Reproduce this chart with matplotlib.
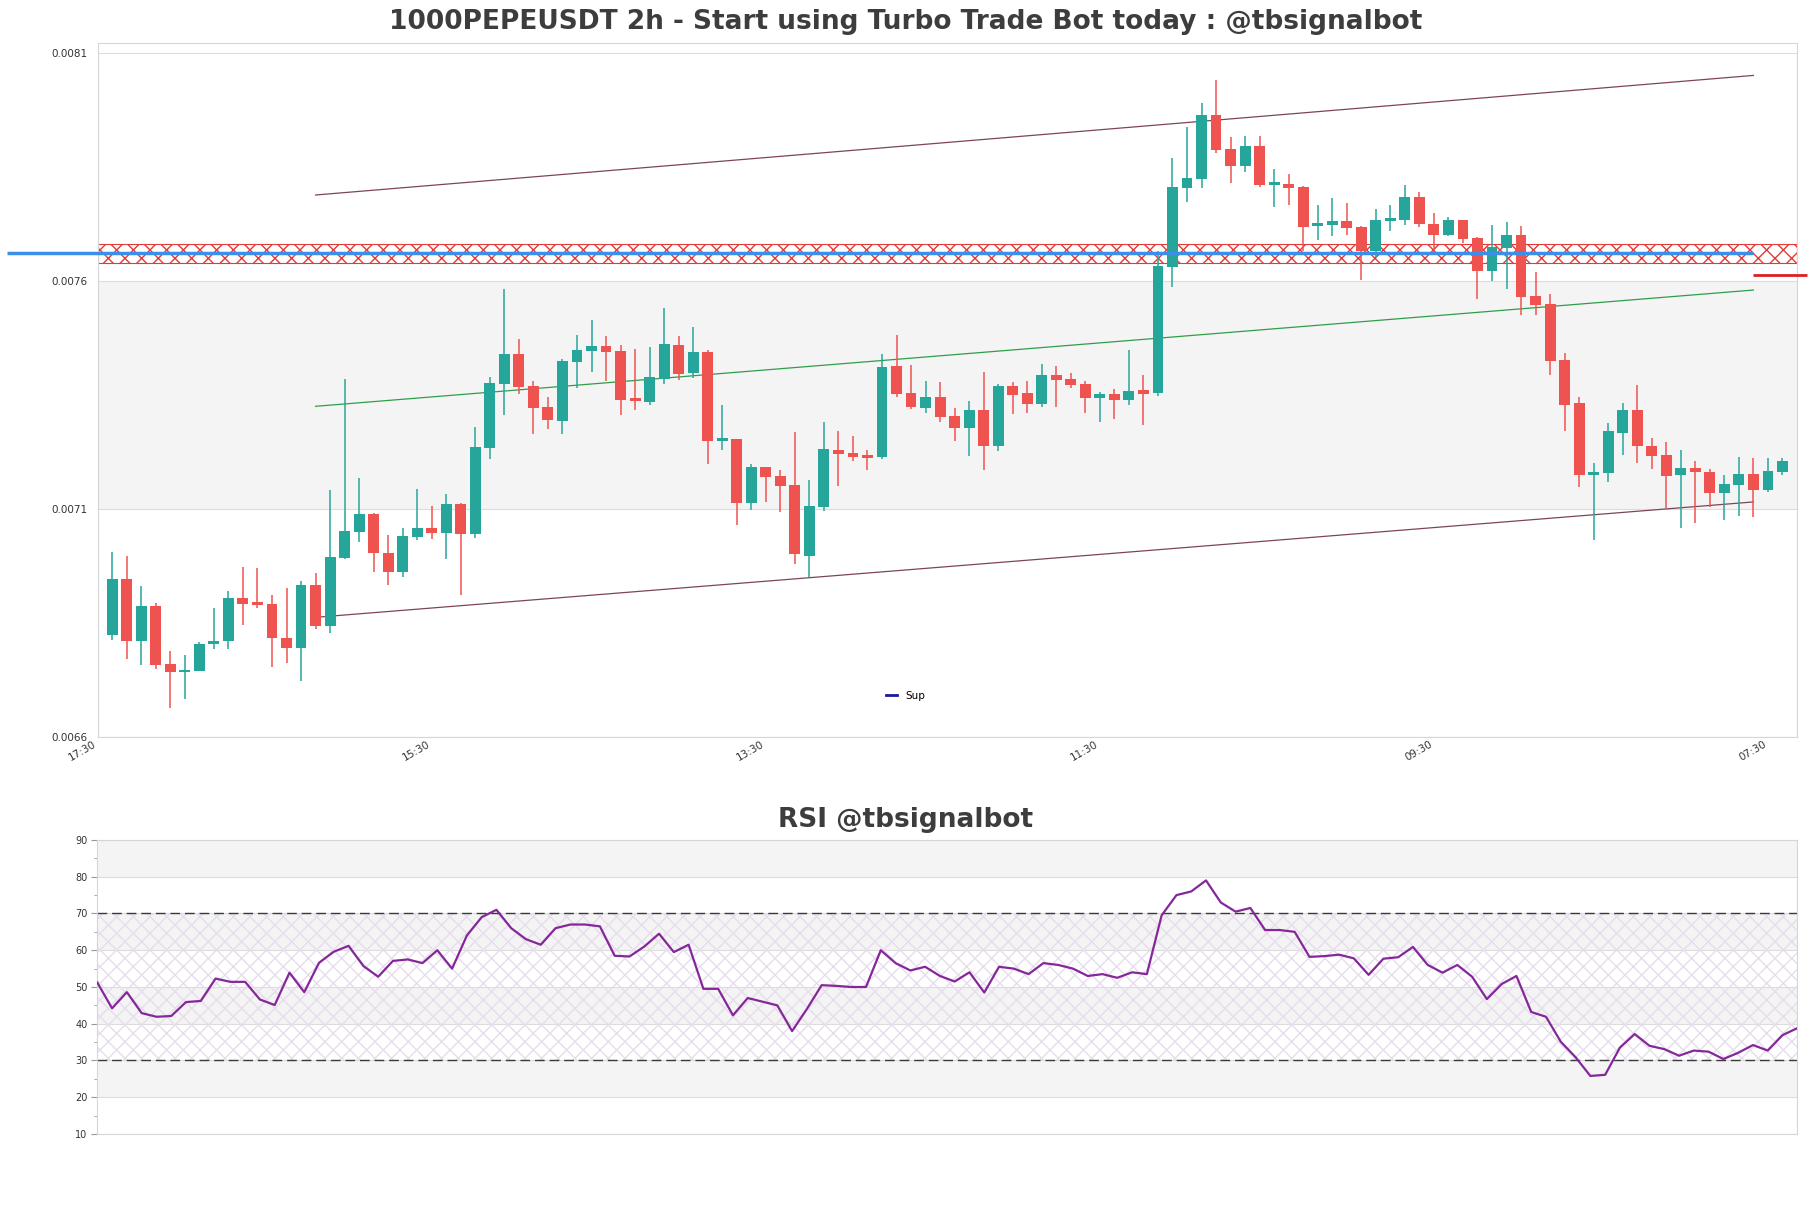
import numpy as np
import matplotlib.pyplot as plt
from matplotlib.lines import Line2D

title = "1000PEPEUSDT 2h - Start using Turbo Trade Bot today : @tbsignalbot"
rsi_title = "RSI @tbsignalbot"

# 2h candles
opens = [0.006824, 0.006946, 0.006809, 0.006887, 0.006760, 0.006741, 0.006745, 0.006803, 0.006809, 0.006905,
         0.006894, 0.006891, 0.006817, 0.006795, 0.006933, 0.006844, 0.006993, 0.007050, 0.007089, 0.007003,
         0.006961, 0.007039, 0.007058, 0.007048, 0.007111, 0.007046, 0.007234, 0.007375, 0.007440, 0.007370,
         0.007324, 0.007294, 0.007423, 0.007447, 0.007457, 0.007447, 0.007343, 0.007335, 0.007386, 0.007460,
         0.007399, 0.007444, 0.007250, 0.007253, 0.007114, 0.007192, 0.007172, 0.007152, 0.006997, 0.007105,
         0.007229, 0.007223, 0.007216, 0.007215, 0.007414, 0.007354, 0.007322, 0.007346, 0.007304, 0.007278,
         0.007317, 0.007237, 0.007370, 0.007354, 0.007331, 0.007394, 0.007385, 0.007374, 0.007344, 0.007352,
         0.007338, 0.007361, 0.007354, 0.007632, 0.007805, 0.007825, 0.007965, 0.007890, 0.007853, 0.007897,
         0.007811, 0.007813, 0.007807, 0.007722, 0.007724, 0.007732, 0.007719, 0.007665, 0.007733, 0.007734,
         0.007785, 0.007725, 0.007702, 0.007734, 0.007695, 0.007623, 0.007673, 0.007702, 0.007567, 0.007550,
         0.007427, 0.007333, 0.007175, 0.007179, 0.007267, 0.007316, 0.007238, 0.007218, 0.007175, 0.007190,
         0.007181, 0.007136, 0.007153, 0.007177, 0.007142, 0.007182]
highs = [0.007005, 0.006997, 0.006931, 0.006893, 0.006788, 0.006779, 0.006807, 0.006883, 0.006920, 0.006973,
         0.006970, 0.006910, 0.006926, 0.006942, 0.006959, 0.007142, 0.007385, 0.007168, 0.007092, 0.007043,
         0.007057, 0.007144, 0.007106, 0.007133, 0.007114, 0.007280, 0.007390, 0.007583, 0.007473, 0.007381,
         0.007346, 0.007429, 0.007482, 0.007515, 0.007480, 0.007459, 0.007451, 0.007455, 0.007541, 0.007480,
         0.007499, 0.007449, 0.007328, 0.007254, 0.007199, 0.007193, 0.007185, 0.007269, 0.007163, 0.007291,
         0.007271, 0.007260, 0.007229, 0.007440, 0.007482, 0.007416, 0.007381, 0.007379, 0.007322, 0.007337,
         0.007401, 0.007374, 0.007379, 0.007381, 0.007418, 0.007414, 0.007398, 0.007381, 0.007357, 0.007363,
         0.007449, 0.007395, 0.007666, 0.007870, 0.007938, 0.007991, 0.008041, 0.007916, 0.007919, 0.007919,
         0.007845, 0.007835, 0.007808, 0.007767, 0.007782, 0.007771, 0.007720, 0.007758, 0.007767, 0.007811,
         0.007796, 0.007750, 0.007741, 0.007735, 0.007697, 0.007723, 0.007730, 0.007722, 0.007621, 0.007572,
         0.007442, 0.007346, 0.007200, 0.007288, 0.007333, 0.007373, 0.007256, 0.007247, 0.007229, 0.007205,
         0.007188, 0.007174, 0.007214, 0.007212, 0.007212, 0.007212]
lows = [0.006812, 0.006771, 0.006758, 0.006749, 0.006664, 0.006683, 0.006745, 0.006793, 0.006793, 0.006845,
        0.006883, 0.006752, 0.006762, 0.006723, 0.006836, 0.006827, 0.006990, 0.007028, 0.006962, 0.006932,
        0.006950, 0.007031, 0.007035, 0.006991, 0.006911, 0.007037, 0.007210, 0.007307, 0.007353, 0.007265,
        0.007275, 0.007265, 0.007366, 0.007401, 0.007381, 0.007307, 0.007318, 0.007329, 0.007375, 0.007384,
        0.007388, 0.007199, 0.007229, 0.007065, 0.007097, 0.007116, 0.007094, 0.006980, 0.006950, 0.007096,
        0.007151, 0.007206, 0.007186, 0.007210, 0.007346, 0.007320, 0.007311, 0.007291, 0.007250, 0.007217,
        0.007186, 0.007228, 0.007309, 0.007311, 0.007324, 0.007324, 0.007366, 0.007311, 0.007291, 0.007298,
        0.007327, 0.007284, 0.007348, 0.007588, 0.007774, 0.007805, 0.007882, 0.007816, 0.007840, 0.007807,
        0.007763, 0.007768, 0.007665, 0.007691, 0.007698, 0.007702, 0.007603, 0.007654, 0.007711, 0.007723,
        0.007719, 0.007658, 0.007700, 0.007683, 0.007561, 0.007601, 0.007583, 0.007526, 0.007526, 0.007395,
        0.007272, 0.007149, 0.007032, 0.007158, 0.007219, 0.007201, 0.007188, 0.007101, 0.007059, 0.007068,
        0.007105, 0.007076, 0.007085, 0.007083, 0.007138, 0.007175]
closes = [0.006946, 0.006809, 0.006887, 0.006758, 0.006741, 0.006746, 0.006804, 0.006810, 0.006905, 0.006892,
          0.006889, 0.006817, 0.006795, 0.006933, 0.006844, 0.006994, 0.007052, 0.007089, 0.007003, 0.006961,
          0.007041, 0.007058, 0.007048, 0.007111, 0.007046, 0.007236, 0.007376, 0.007440, 0.007368, 0.007322,
          0.007296, 0.007425, 0.007449, 0.007457, 0.007445, 0.007340, 0.007336, 0.007390, 0.007462, 0.007397,
          0.007444, 0.007250, 0.007253, 0.007114, 0.007192, 0.007171, 0.007151, 0.007000, 0.007106, 0.007232,
          0.007221, 0.007215, 0.007212, 0.007412, 0.007353, 0.007324, 0.007346, 0.007302, 0.007278, 0.007317,
          0.007237, 0.007370, 0.007351, 0.007331, 0.007394, 0.007384, 0.007373, 0.007344, 0.007352, 0.007338,
          0.007359, 0.007353, 0.007633, 0.007807, 0.007826, 0.007965, 0.007888, 0.007853, 0.007897, 0.007812,
          0.007814, 0.007805, 0.007719, 0.007725, 0.007732, 0.007717, 0.007665, 0.007734, 0.007737, 0.007785,
          0.007726, 0.007702, 0.007734, 0.007693, 0.007623, 0.007675, 0.007702, 0.007566, 0.007548, 0.007425,
          0.007329, 0.007175, 0.007180, 0.007270, 0.007316, 0.007237, 0.007217, 0.007173, 0.007190, 0.007180,
          0.007136, 0.007155, 0.007177, 0.007142, 0.007183, 0.007205]

rsi = [51.2, 44.2, 48.6, 42.9, 41.9, 42.1, 45.9, 46.2, 52.3, 51.4,
       51.4, 46.6, 45.1, 53.9, 48.6, 56.6, 59.6, 61.2, 55.7, 52.8,
       57.1, 57.5, 56.5, 60.0, 55.0, 64.0, 69.0, 71.0, 66.0, 63.0,
       61.5, 66.0, 67.0, 67.0, 66.5, 58.5, 58.3, 61.0, 64.5, 59.5,
       61.5, 49.5, 49.5, 42.3, 47.0, 46.0, 45.0, 38.0, 44.0, 50.5,
       50.3, 50.0, 50.0, 60.0, 56.5, 54.5, 55.5, 53.0, 51.5, 54.0,
       48.5, 55.5, 55.0, 53.5, 56.5, 56.0, 55.0, 53.0, 53.5, 52.5,
       54.0, 53.5, 69.5, 75.0, 76.0, 79.0, 73.0, 70.5, 71.5, 65.5,
       65.5, 65.0, 58.2, 58.4, 58.8, 57.8, 53.3, 57.7, 58.1, 60.9,
       56.0, 53.9, 56.0, 52.8, 46.7, 50.8, 53.0, 43.2, 41.9, 35.1,
       30.9, 25.8, 26.1, 33.5, 37.2, 34.0, 33.1, 31.3, 32.7, 32.4,
       30.4, 32.1, 34.2, 32.7, 36.9, 38.8]

xtick_pos = [-1, 22, 45, 68, 91, 114]
xtick_labels = ["17:30", "15:30", "13:30", "11:30", "09:30", "07:30"]
price_ticks = [0.0066, 0.0071, 0.0076, 0.0081]
price_tick_labels = ["0.0066", "0.0071", "0.0076", "0.0081"]

zone_low, zone_high = 0.00764, 0.007681
sup_level = 0.007661
res_level = 0.007614
upper_x, upper_y = [14, 113], [0.007789, 0.0080515]
mid_x, mid_y = [14, 113], [0.0073252, 0.0075804]
lower_x, lower_y = [14, 113], [0.006862, 0.0071153]

green, red = "#26a69a", "#ef5350"
grey_txt = "#3d3d3d"

fig = plt.figure(figsize=(18.11, 12.08), dpi=100)
ax1 = fig.add_axes([0.05395, 0.39015, 0.93832, 0.57401])
ax2 = fig.add_axes([0.05373, 0.06126, 0.93871, 0.24338])

# ---- price panel
o, h, l, c = map(np.array, (opens, highs, lows, closes))
x = np.arange(len(o))
col = np.where(c >= o, green, red)
body_lo = np.minimum(o, c)
body_h = np.maximum(np.abs(c - o), 0.000006)

ax1.axhspan(0.0071, 0.0076, color="#f4f4f4", zorder=0, lw=0)
ax1.axhspan(zone_low, zone_high, facecolor="none", edgecolor="#e53935",
            hatch="xx", linewidth=0.8, zorder=1.5)
ax1.plot(upper_x, upper_y, color="#7d4555", lw=0.9, zorder=1.6)
ax1.plot(lower_x, lower_y, color="#7d4555", lw=0.9, zorder=1.6)
ax1.plot(mid_x, mid_y, color="#2e9e4a", lw=0.9, zorder=1.6)

ax1.vlines(x, l, h, colors=col, linewidth=1.1, zorder=3)
ax1.bar(x, body_h, bottom=body_lo, width=0.75, color=col, linewidth=0, zorder=4)

ax1.plot([-7.25, 113], [sup_level, sup_level], color="#3d8ee6", lw=2.5,
         clip_on=False, zorder=5, solid_capstyle="butt")
ax1.plot([113, 116.7], [res_level, res_level], color="#e01e1e", lw=2.0,
         clip_on=False, zorder=5, solid_capstyle="butt")

ax1.set_xlim(-1, 116)
ax1.set_ylim(0.0066, 0.008122)
ax1.set_yticks(price_ticks)
ax1.set_yticklabels(price_tick_labels)
ax1.set_xticks(xtick_pos)
ax1.set_xticklabels(xtick_labels, rotation=30, ha="right")
ax1.tick_params(axis="y", length=0, pad=7.5, labelsize=7.5, labelcolor="#333333")
ax1.tick_params(axis="x", length=0, pad=2, labelsize=7.5, labelcolor="#333333")
ax1.set_axisbelow(True)
ax1.yaxis.grid(True, color="#dcdcdc", lw=0.8)
for s in ax1.spines.values():
    s.set_color("#d6d6d6")
    s.set_linewidth(0.8)

sup_handle = Line2D([], [], color="#1a1a9c", lw=2, label="Sup")
ax1.legend(handles=[sup_handle], loc="center", bbox_to_anchor=(0.5, 0.4238),
           bbox_transform=fig.transFigure, frameon=False, fontsize=7.5,
           handlelength=1.0, handletextpad=0.8)

# ---- RSI panel
for lo in [20, 40, 60, 80]:
    ax2.axhspan(lo, lo + 10, color="#f4f4f4", zorder=0, lw=0)
ax2.axhspan(30, 70, facecolor="none", edgecolor="#e6dded", hatch="xx", lw=0, zorder=1)
ax2.axhline(70, color="#3a3a3a", lw=1.0, dashes=(7, 3.5), zorder=2)
ax2.axhline(30, color="#3a3a3a", lw=1.0, dashes=(7, 3.5), zorder=2)
ax2.plot(np.arange(len(rsi)), rsi, color="#85279a", lw=1.6, zorder=3)

ax2.set_xlim(0, len(rsi) - 1)
ax2.set_ylim(10, 90)
ax2.set_yticks(range(10, 91, 10))
ax2.set_yticks(range(15, 90, 10), minor=True)
ax2.set_xticks([])
ax2.tick_params(axis="y", which="major", length=4, color="#999999", labelsize=7,
                labelcolor="#333333", pad=3)
ax2.tick_params(axis="y", which="minor", length=2, color="#999999")
ax2.set_axisbelow(True)
ax2.yaxis.grid(True, color="#dcdcdc", lw=0.8)
for s in ax2.spines.values():
    s.set_color("#d6d6d6")
    s.set_linewidth(0.8)

fig.text(0.5, 0.9818, title, ha="center", va="center", fontsize=19,
         fontweight="bold", color=grey_txt)
fig.text(0.5, 0.3212, rsi_title, ha="center", va="center", fontsize=19,
         fontweight="bold", color=grey_txt)

fig.savefig("out.png", dpi=100, facecolor="white")
